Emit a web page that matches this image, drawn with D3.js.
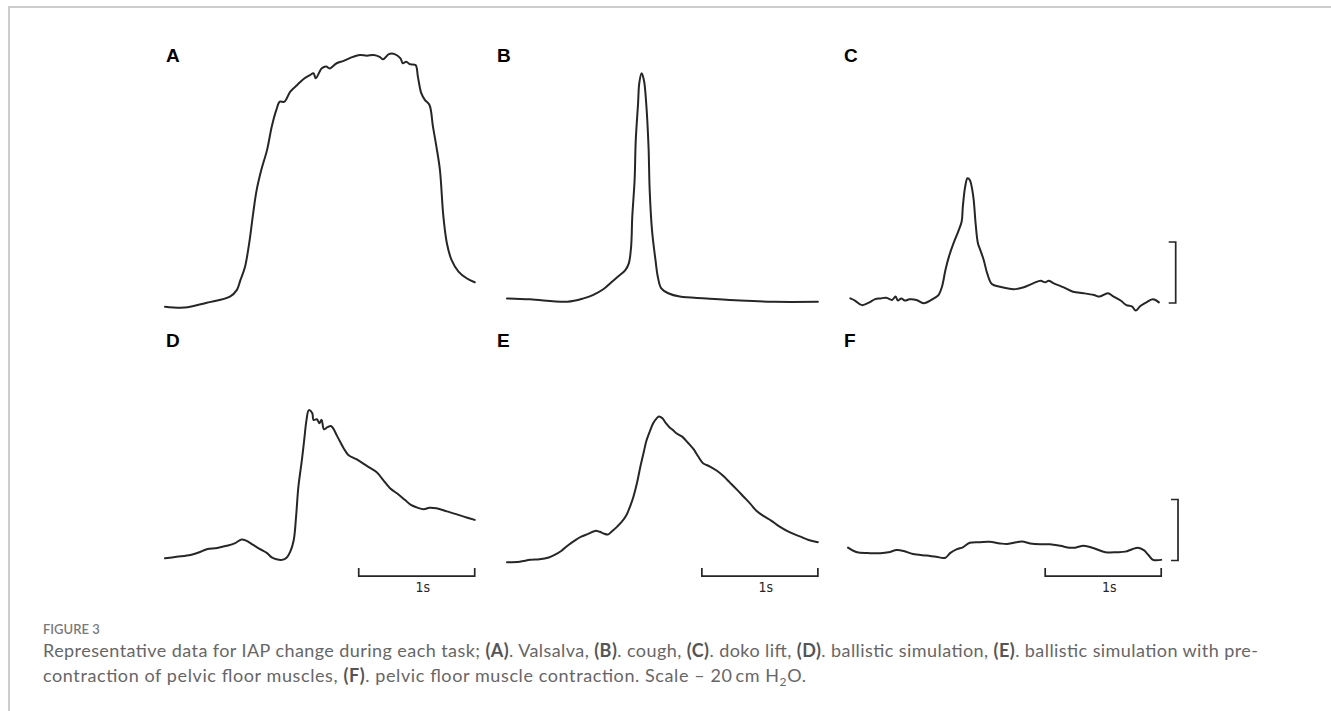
<!DOCTYPE html>
<html>
<head>
<meta charset="utf-8">
<script src="https://cdn.jsdelivr.net/npm/d3@7"></script>
<style>
  body { margin: 0; background: #fff; }
  svg { display: block; }
</style>
</head>
<body>
<svg id="chart" width="1331" height="711"></svg>
<script>
// IAP traces, [time (s), pressure (cm H2O)]
const valsalva = [[0,1.1],[0.17,0.8],[0.36,2.4],[0.56,4.4],[0.62,6.6],[0.65,9.8],[0.69,14.2],[0.73,23],[0.76,31.7],[0.79,39.3],[0.83,45.9],[0.88,52.5],[0.92,60.1],[0.96,65.6],[0.99,68.3],[1.03,68.3],[1.08,71.6],[1.14,73.8],[1.19,75.6],[1.25,77],[1.28,77.6],[1.3,76],[1.35,79.2],[1.39,79.8],[1.42,79.2],[1.48,80.9],[1.54,81.7],[1.62,83],[1.68,83.6],[1.74,83.4],[1.8,83.6],[1.85,83],[1.88,82.2],[1.93,83.9],[1.98,83.9],[2.03,82.5],[2.05,80.9],[2.08,81.4],[2.11,80.6],[2.16,80.3],[2.18,76.5],[2.21,71],[2.24,68.9],[2.28,67.2],[2.31,60.1],[2.34,53.5],[2.37,45.9],[2.4,30.6],[2.43,21.9],[2.47,16.4],[2.53,12.6],[2.6,10.4],[2.67,9.1]];
const cough = [[0,3.8],[0.2,3.5],[0.52,2.7],[0.66,3.8],[0.74,4.9],[0.83,6.8],[0.9,9.1],[0.96,11.1],[1.02,13.1],[1.05,15.3],[1.07,20.8],[1.08,30.6],[1.1,42.6],[1.11,55.7],[1.13,67.8],[1.14,74.3],[1.16,77.6],[1.18,75.4],[1.2,67.8],[1.22,53.6],[1.23,39.3],[1.25,26.2],[1.28,16.4],[1.3,10.9],[1.33,7.1],[1.39,5.5],[1.49,4.4],[1.72,3.8],[2.01,3.1],[2.3,2.7],[2.68,2.7]];
const dokoLift = [[0.02,3.8],[0.06,3.1],[0.12,1.6],[0.18,2.4],[0.23,3.5],[0.28,3.8],[0.33,4],[0.38,3.3],[0.41,4.4],[0.43,3.1],[0.46,3.8],[0.49,3.1],[0.53,3.5],[0.59,3.3],[0.65,2.2],[0.69,2.7],[0.74,3.8],[0.78,4.9],[0.81,7.6],[0.84,13.1],[0.87,17.5],[0.91,21.9],[0.95,25.7],[0.98,29],[0.99,33.9],[1.01,40.4],[1.03,43.2],[1.05,42.6],[1.08,37.2],[1.1,28.4],[1.12,21.9],[1.14,19.7],[1.17,16.4],[1.2,12],[1.24,8.5],[1.31,7.6],[1.43,6.8],[1.51,7.4],[1.6,8.8],[1.66,9.6],[1.7,9.1],[1.73,9.6],[1.77,8.8],[1.86,7.4],[1.94,6],[2.03,5.5],[2.12,4.9],[2.17,4.4],[2.24,5.5],[2.29,4.4],[2.35,3.1],[2.4,1.6],[2.45,1.1],[2.48,-0.2],[2.52,1.3],[2.58,2.7],[2.63,3.5],[2.68,2.5]];
const ballistic = [[0,1.2],[0.1,1.7],[0.22,2.3],[0.29,3.1],[0.36,4.2],[0.45,4.6],[0.53,5.3],[0.6,6.1],[0.66,7.4],[0.7,7],[0.76,5.6],[0.82,4.2],[0.88,2.9],[0.92,1.5],[0.96,0.9],[1.01,0.7],[1.05,1.5],[1.08,3.4],[1.11,7.2],[1.13,14.9],[1.15,24.7],[1.18,33.4],[1.2,40],[1.22,46.6],[1.24,49.8],[1.27,48.8],[1.28,46.6],[1.31,46.8],[1.33,45.5],[1.35,46.6],[1.37,43.5],[1.4,44.2],[1.43,44.6],[1.45,43.8],[1.48,41.6],[1.51,39.4],[1.54,37.3],[1.58,35.1],[1.65,33.7],[1.74,31.5],[1.83,29.3],[1.88,26.9],[1.94,24.2],[2.01,22.2],[2.07,20.3],[2.12,18.7],[2.17,17.9],[2.23,17.3],[2.28,17.8],[2.34,17.6],[2.43,16.6],[2.51,15.7],[2.6,14.6],[2.67,13.8]];
const ballisticPre = [[0,-0.1],[0.11,0.1],[0.2,0.7],[0.28,0.9],[0.36,1.5],[0.41,2.3],[0.47,3.7],[0.53,5.6],[0.59,7.2],[0.64,8.3],[0.7,9.2],[0.76,10.2],[0.8,9.9],[0.83,9.4],[0.87,9],[0.9,9.9],[0.95,11.6],[0.99,13.2],[1.03,15.4],[1.06,18.1],[1.09,21.4],[1.12,25.8],[1.15,31.3],[1.18,36.2],[1.2,39.5],[1.23,42.7],[1.26,45.5],[1.29,47.1],[1.31,47.7],[1.34,47.1],[1.37,45.5],[1.4,44.2],[1.43,43.3],[1.46,42.2],[1.51,41.1],[1.56,39.1],[1.61,36.9],[1.65,34.5],[1.69,32.4],[1.75,31.3],[1.81,29.9],[1.87,28],[1.92,26.1],[1.98,23.8],[2.04,21.4],[2.1,19],[2.15,16.8],[2.21,15.1],[2.28,13.5],[2.35,11.6],[2.44,9.7],[2.53,8.3],[2.6,7.2],[2.68,6.5]];
const pelvicFloor = [[0,4.7],[0.05,3.6],[0.09,3.1],[0.19,2.9],[0.28,2.9],[0.35,3.2],[0.42,3.9],[0.48,3.6],[0.56,2.6],[0.68,2.1],[0.76,1.7],[0.84,1.4],[0.88,2.9],[0.94,4.2],[0.99,4.8],[1.05,6.3],[1.14,6.5],[1.22,6.6],[1.31,6.1],[1.37,5.9],[1.43,6.3],[1.5,6.7],[1.57,6.1],[1.66,5.8],[1.74,5.8],[1.83,5.3],[1.91,4.7],[1.96,4.7],[2.03,5.3],[2.12,4.5],[2.22,3.2],[2.32,3.2],[2.39,3.4],[2.45,4.2],[2.5,4.7],[2.55,3.9],[2.59,2.3],[2.63,0.7],[2.7,0.7]];

const panelLabels = ['A', 'B', 'C', 'D', 'E', 'F'];
const traces = [valsalva, cough, dokoLift, ballistic, ballisticPre, pelvicFloor];
const timeBarPanels = ['D', 'E', 'F'];      // 1 s bars
const pressureBarPanels = ['C', 'F'];       // 20 cm H2O bars
const timeBar = 1;
const pressureBar = 20;

const svg = d3.select('#chart');
const ink = '#262626';

// page frame
svg.append('path')
  .attr('d', 'M9,711 V7 H1331')
  .attr('fill', 'none')
  .attr('stroke', '#bdbdbd')
  .attr('stroke-width', 1.5);

const colX = [165, 507, 848];
const rowZero = [310, 562];
const labelBase = [62, 347];

const line = d3.line().curve(d3.curveCatmullRom.alpha(0.5));

panelLabels.forEach((lab, i) => {
  const col = i % 3, row = Math.floor(i / 3);
  const data = traces[i];
  const x = d3.scaleLinear().domain([0, 1]).range([colX[col], colX[col] + 116]);
  const y = d3.scaleLinear().domain([0, 20]).range([rowZero[row], rowZero[row] - 61]);
  const g = svg.append('g');

  g.append('text')
    .attr('x', colX[col] + (col === 2 ? -4 : (col === 1 ? -10 : 1)))
    .attr('y', labelBase[row])
    .attr('font-family', 'Liberation Sans, Arial, sans-serif')
    .attr('font-weight', 'bold')
    .attr('font-size', 19)
    .attr('fill', '#000')
    .text(lab);

  g.append('path')
    .attr('d', line(data.map(d => [x(d[0]), y(d[1])])))
    .attr('fill', 'none')
    .attr('stroke', ink)
    .attr('stroke-width', 2)
    .attr('stroke-linejoin', 'round')
    .attr('stroke-linecap', 'round');

  const last = data[data.length - 1];

  if (timeBarPanels.includes(lab)) {
    const x1 = x(last[0]), x0 = x(last[0] - timeBar), yb = y(-4.6);
    g.append('path')
      .attr('d', `M${x0},${yb - 8} V${yb} H${x1} V${yb - 8}`)
      .attr('fill', 'none')
      .attr('stroke', ink)
      .attr('stroke-width', 1.7);
    g.append('text')
      .attr('x', (x0 + x1) / 2 + 6)
      .attr('y', yb + 16)
      .attr('text-anchor', 'middle')
      .attr('font-family', 'Liberation Sans Narrow, Arial Narrow, DejaVu Sans Condensed, sans-serif')
      .attr('font-size', 14)
      .attr('fill', ink)
      .text('1s');
  }

  if (pressureBarPanels.includes(lab)) {
    const xb = x(last[0] + 0.145), y0 = y(last[1] - 0.2), y1 = y(last[1] - 0.2 + pressureBar);
    g.append('path')
      .attr('d', `M${xb - 7},${y1} H${xb} V${y0} H${xb - 7}`)
      .attr('fill', 'none')
      .attr('stroke', ink)
      .attr('stroke-width', 1.7);
  }
});

// caption
const capFont = 'Lato, Open Sans, sans-serif';
svg.append('text')
  .attr('x', 43).attr('y', 634)
  .attr('font-family', capFont)
  .attr('font-size', 13)
  .attr('font-weight', 600)
  .attr('fill', '#7a7a7a')
  .text('FIGURE 3');

const line1 = [
  ['Representative data for IAP change during each task; ', 0], ['(A)', 1], ['. Valsalva, ', 0],
  ['(B)', 1], ['. cough, ', 0], ['(C)', 1], ['. doko lift, ', 0], ['(D)', 1],
  ['. ballistic simulation, ', 0], ['(E)', 1], ['. ballistic simulation with pre-', 0]
];
const line2 = [
  ['contraction of pelvic floor muscles, ', 0], ['(F)', 1],
  ['. pelvic floor muscle contraction. Scale \u2013 20\u2009cm H', 0], ['2', 2], ['O.', 3]
];

function caption(parts, yPos, len) {
  const t = svg.append('text')
    .attr('x', 43).attr('y', yPos)
    .attr('font-family', capFont)
    .attr('font-size', 18)
    .attr('font-weight', 400)
    .attr('fill', '#666')
    .attr('textLength', len)
    .attr('lengthAdjust', 'spacing');
  parts.forEach(([s, k]) => {
    const ts = t.append('tspan').text(s);
    if (k === 1) ts.attr('font-weight', 'bold').attr('fill', '#555');
    if (k === 2) ts.attr('font-size', 12).attr('dy', 4);
    if (k === 3) ts.attr('dy', -4);
  });
}
caption(line1, 657, 1215);
caption(line2, 682, 763);
</script>
</body>
</html>
